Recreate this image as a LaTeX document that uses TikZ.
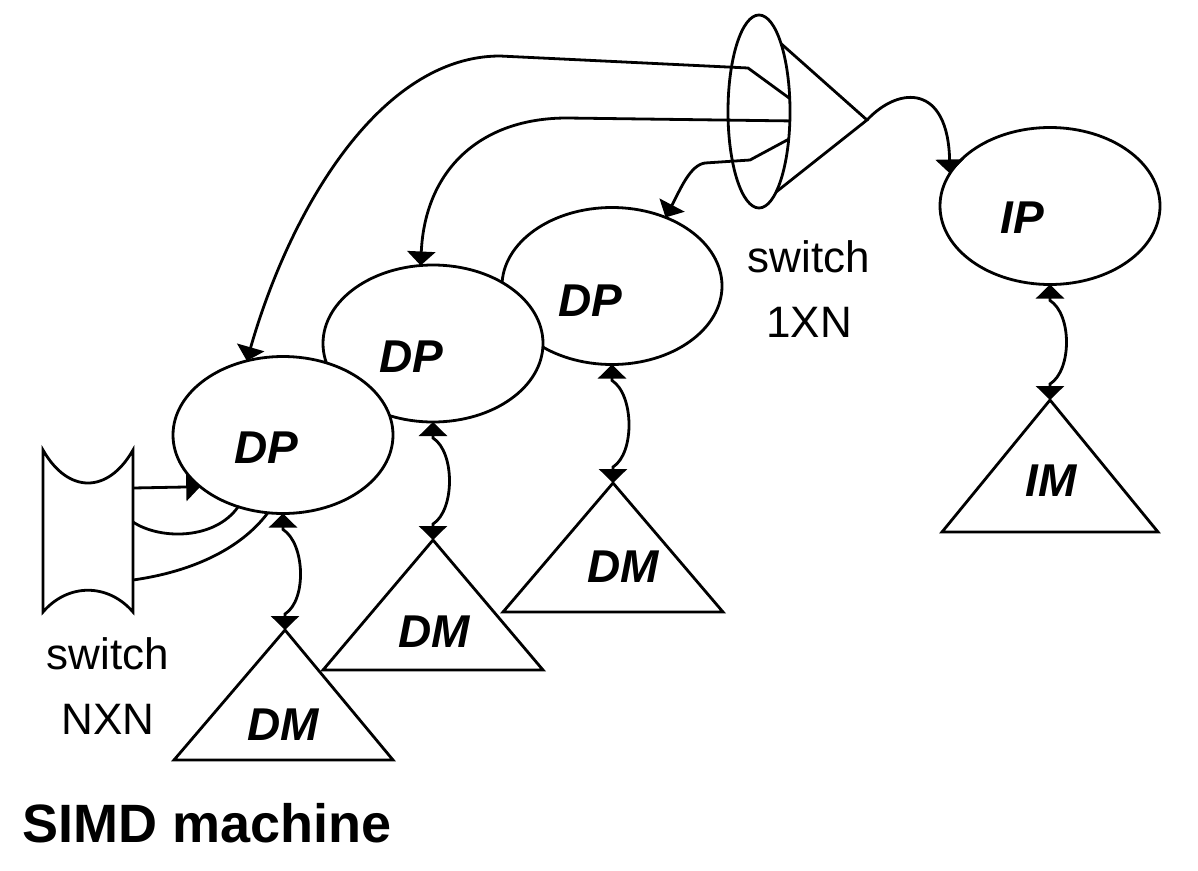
\documentclass[tikz,border=0pt]{standalone}
\usepackage{fontspec}
\setmainfont{Liberation Sans}
\usetikzlibrary{arrows.meta,shapes.geometric,calc}
\begin{document}
\begin{tikzpicture}[x=1pt,y=-1pt,
  lw/.style={line width=2.8pt},
  blob/.style={ellipse, draw, lw, fill=white, minimum width=220pt, minimum height=157pt, inner sep=0pt, outer sep=0pt},
  mem/.style={draw, lw, fill=white, line join=miter},
  lbl/.style={font=\fontsize{46}{46}\selectfont\bfseries\itshape, inner sep=0pt},
  swlbl/.style={anchor=north, align=center, font=\fontsize{44}{65}\selectfont, inner sep=0pt},
  arr/.style={lw,-{Triangle[width=28pt,length=14pt]}},
  darr/.style={lw,{Triangle[width=28pt,length=14pt]}-{Triangle[width=28pt,length=14pt]}},
]
\useasboundingbox (0,0) rectangle (1198,870);

% data processors (back to front)
\node[blob] (dp3) at (612,286) {};
\node[blob] (dp2) at (433,343.5) {};
\node[blob] (dp1) at (283,435) {};
\node[blob] (ip) at (1050,206) {};

% memories (back to front)
\coordinate (dm3) at (613,483);
\coordinate (dm2) at (433,540);
\coordinate (dm1) at (285,630);
\coordinate (im) at (1050,400);
\draw[mem] (dm3) -- ++(-110,129) -- ++(220,0) -- cycle;
\draw[mem] (dm2) -- ++(-110,130) -- ++(220,0) -- cycle;
\draw[mem] (dm1) -- ++(-111,130) -- ++(219,0) -- cycle;
\draw[mem] (im) -- ++(-108,132) -- ++(216,0) -- cycle;

% labels
\node[lbl] (dp1t) at (266,448) {DP};
\node[lbl] (dp2t) at (411,357) {DP};
\node[lbl] (dp3t) at (590,301) {DP};
\node[lbl] (ipt) at (1022,218) {IP};
\node[lbl] (dm1t) at (283,725) {DM};
\node[lbl] (dm2t) at (434,632) {DM};
\node[lbl] (dm3t) at (623,567) {DM};
\node[lbl] (imt) at (1051,481) {IM};

% processor <-> memory links
\draw[darr] (dp1.south) -- ++(0,16) .. controls +(22,14) and +(22,-14) .. ($(dm1)+(0,-16)$) -- (dm1);
\draw[darr] (dp2.south) -- ++(0,16) .. controls +(22,14) and +(22,-14) .. ($(dm2)+(0,-16)$) -- (dm2);
\draw[darr] (dp3.south) -- ++(0,16) .. controls +(22,14) and +(22,-14) .. ($(dm3)+(0,-16)$) -- (dm3);
\draw[darr] (ip.south) -- ++(0,16) .. controls +(22,14) and +(22,-14) .. ($(im)+(0,-16)$) -- (im);

% switch 1XN
\node[ellipse, draw, lw, minimum width=62pt, minimum height=193pt, inner sep=0pt, outer sep=0pt] (sw) at (759,111.5) {};
\coordinate (apex) at (867,120);
\draw[lw, line join=miter] (sw.72) -- (apex) -- (sw.282);
\draw[arr] (apex) .. controls (900,85) and (948,85) .. (ip.162);
\draw[arr] (sw.23) -- (748,68) -- (500,56) .. controls (380,56) and (290,210) .. (dp1.116);
\draw[arr] (sw.-17) -- (567,118) .. controls (480,118) and (425,170) .. (dp2.99);
\draw[arr] (sw.-43) -- (750,160) -- (705,163) .. controls (690,165) and (680,190) .. (dp3.52);
\node[swlbl] (swt) at (809,240) {switch\\1XN};

% switch NXN
\draw[lw, line join=miter] (43,450) -- (43,612) .. controls (68,583) and (108,583) .. (133,612) -- (133,450) .. controls (108,494) and (68,494) .. (43,450) -- cycle;
\coordinate (n1) at (133,488);
\coordinate (n2) at (133,522);
\coordinate (n3) at (133,580);
\draw[arr] (n1) -- (dp1.212);
\draw[lw] (n2) .. controls (160,540) and (215,540) .. (dp1.238);
\draw[lw] (n3) .. controls (190,572) and (240,550) .. (dp1.259);
\node[swlbl] (nxnt) at (108,637) {switch\\NXN};

% title
\node[anchor=base west, font=\fontsize{54}{54}\selectfont\bfseries, inner sep=0pt] (title) at (22,842) {SIMD machine};
\end{tikzpicture}
\end{document}
